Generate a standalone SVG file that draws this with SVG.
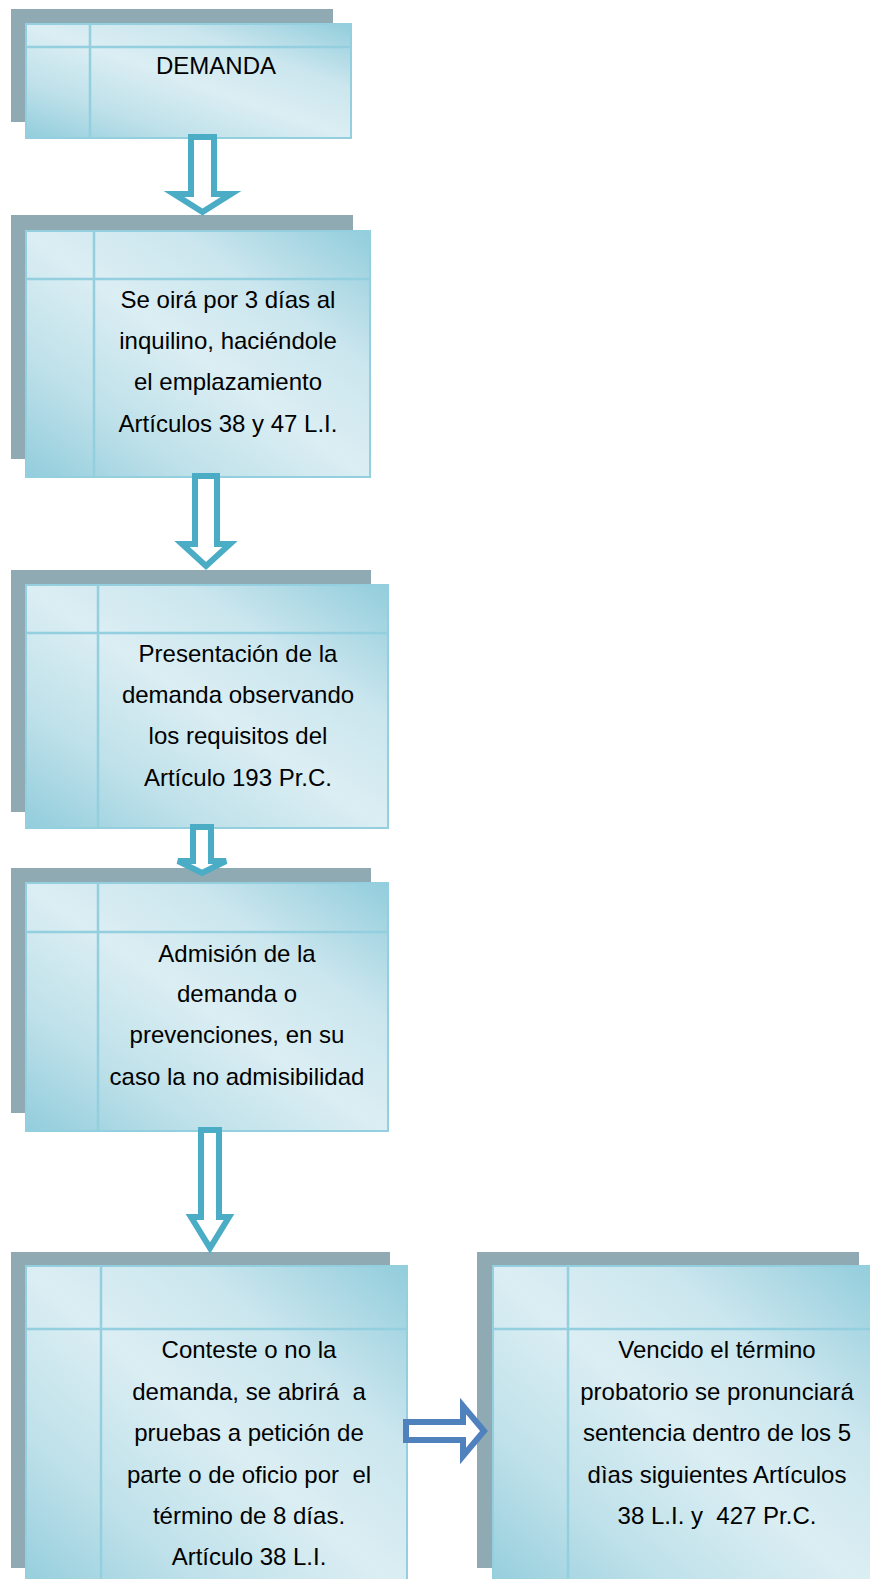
<svg xmlns="http://www.w3.org/2000/svg" width="870" height="1579" viewBox="0 0 870 1579">
<defs>
<linearGradient id="g" x1="0" y1="1" x2="1" y2="0">
<stop offset="0" stop-color="#92cddc"/>
<stop offset="0.25" stop-color="#bfe1ea"/>
<stop offset="0.5" stop-color="#dbeef3"/>
<stop offset="0.72" stop-color="#cbe6ee"/>
<stop offset="1" stop-color="#92cddc"/>
</linearGradient>
</defs>
<style>
.sh{fill:#8faab3}
.fr{fill:url(#g);stroke:#93cfde;stroke-width:2}
.dv{stroke:#93cfde;stroke-width:2.5;fill:none}
.t{font-family:"Liberation Sans",Arial,sans-serif;font-size:24px;fill:#000;text-anchor:middle;white-space:pre}
.av{fill:#fff;stroke:#4bacc6;stroke-width:6;stroke-linejoin:miter}
.ah{fill:#fff;stroke:#4f81bd;stroke-width:6;stroke-linejoin:miter}
</style>
<rect width="870" height="1579" fill="#fff"/>
<g id="node1">
<rect class="sh" x="11" y="9" width="322" height="113"/>
<rect class="fr" x="26" y="24" width="325" height="114"/>
<line class="dv" x1="90" y1="24" x2="90" y2="138"/>
<line class="dv" x1="26" y1="47" x2="351" y2="47"/>
<text class="t" x="216" y="74">DEMANDA</text>
</g>
<g id="node2">
<rect class="sh" x="11" y="215" width="342" height="244"/>
<rect class="fr" x="26" y="231" width="344" height="246"/>
<line class="dv" x1="94" y1="231" x2="94" y2="477"/>
<line class="dv" x1="26" y1="279" x2="370" y2="279"/>
<text class="t" x="228" y="308">Se oirá por 3 días al</text>
<text class="t" x="228" y="349">inquilino, haciéndole</text>
<text class="t" x="228" y="390">el emplazamiento</text>
<text class="t" x="228" y="432">Artículos 38 y 47 L.I.</text>
</g>
<g id="node3">
<rect class="sh" x="11" y="570" width="360" height="242"/>
<rect class="fr" x="26" y="585" width="362" height="243"/>
<line class="dv" x1="98" y1="585" x2="98" y2="828"/>
<line class="dv" x1="26" y1="633" x2="388" y2="633"/>
<text class="t" x="238" y="662">Presentación de la</text>
<text class="t" x="238" y="703">demanda observando</text>
<text class="t" x="238" y="744">los requisitos del</text>
<text class="t" x="238" y="786">Artículo 193 Pr.C.</text>
</g>
<g id="node4">
<rect class="sh" x="11" y="868" width="360" height="245"/>
<rect class="fr" x="26" y="883" width="362" height="248"/>
<line class="dv" x1="98" y1="883" x2="98" y2="1131"/>
<line class="dv" x1="26" y1="932" x2="388" y2="932"/>
<text class="t" x="237" y="962">Admisión de la</text>
<text class="t" x="237" y="1002">demanda o</text>
<text class="t" x="237" y="1043">prevenciones, en su</text>
<text class="t" x="237" y="1085">caso la no admisibilidad</text>
</g>
<g id="node5">
<rect class="sh" x="11" y="1252" width="379" height="316"/>
<rect class="fr" x="26" y="1266" width="381" height="330"/>
<line class="dv" x1="101" y1="1266" x2="101" y2="1596"/>
<line class="dv" x1="26" y1="1329" x2="407" y2="1329"/>
<text class="t" x="249" y="1358">Conteste o no la</text>
<text class="t" x="249" y="1400">demanda, se abrirá  a</text>
<text class="t" x="249" y="1441">pruebas a petición de</text>
<text class="t" x="249" y="1483">parte o de oficio por  el</text>
<text class="t" x="249" y="1524">término de 8 días.</text>
<text class="t" x="249" y="1565">Artículo 38 L.I.</text>
</g>
<g id="node6">
<rect class="sh" x="477" y="1252" width="382" height="316"/>
<rect class="fr" x="493" y="1266" width="383" height="330"/>
<line class="dv" x1="568" y1="1266" x2="568" y2="1596"/>
<line class="dv" x1="493" y1="1329" x2="876" y2="1329"/>
<text class="t" x="717" y="1358">Vencido el término</text>
<text class="t" x="717" y="1400">probatorio se pronunciará</text>
<text class="t" x="717" y="1441">sentencia dentro de los 5</text>
<text class="t" x="717" y="1483">dìas siguientes Artículos</text>
<text class="t" x="717" y="1524">38 L.I. y  427 Pr.C.</text>
</g>
<g id="connectors">
<path class="av" d="M191,137 H214 V194 H231 L202.5,212 L174,194 H191 Z"/>
<path class="av" d="M195,476 H217 V544 H230 L206,566 L182,544 H195 Z"/>
<path class="av" d="M193,827 H211 V861 H226 L202,873 L178,861 H193 Z"/>
<path class="av" d="M201,1130 H219 V1217 H229 L210,1248 L191,1217 H201 Z"/>
<path class="ah" d="M406,1422 H463 V1406 L484,1431 L463,1456 V1440 H406 Z"/>
</g>
</svg>
